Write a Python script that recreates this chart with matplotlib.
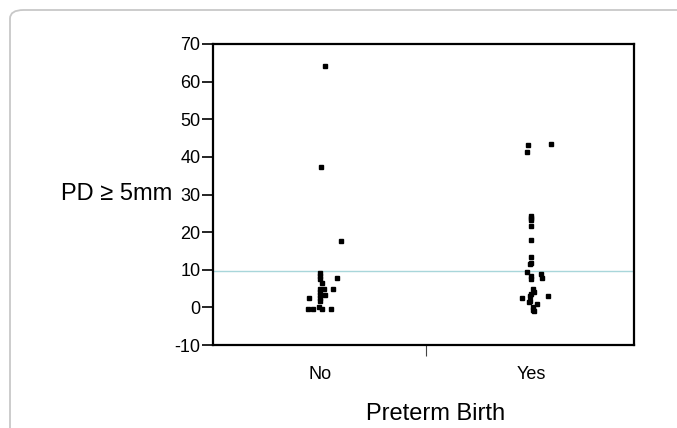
import numpy as np
import matplotlib.pyplot as plt
from matplotlib.patches import FancyBboxPatch

plt.rcParams['font.family'] = ['Liberation Sans', 'DejaVu Sans']

# values
groups = ["No", "Yes"]

no_values = [64.1, 37.2, 17.6, 9.2, 8.4, 7.6, 6.5, 7.8, 4.8, 5.0, 5.0, 4.0, 3.2, 3.2,
             2.4, 1.6, 2.4, -0.5, -0.4, 0.2, -0.5, -0.3]
no_jitter = [0.02, 0.005, 0.10, 0.0, 0.0, 0.0, 0.01, 0.08, 0.06, 0.0, 0.015, 0.0, 0.0, 0.02,
             0.0, 0.0, -0.055, -0.06, -0.035, -0.005, 0.01, 0.05]

yes_values = [43.2, 41.3, 43.5, 24.4, 23.8, 23.1, 21.7, 17.8, 13.3, 11.9, 11.4, 9.3, 8.4, 7.5,
              8.9, 7.9, 4.9, 4.1, 3.5, 2.9, 2.4, 2.9, 1.7, 1.3, 0.9, 0.0, -0.7, -0.9]
yes_jitter = [-0.013, -0.02, 0.098, 0.0, 0.0, 0.0, 0.0, 0.0, 0.0, 0.003, -0.002, -0.02, 0.0, 0.0,
              0.047, 0.053, 0.008, 0.014, 0.003, -0.002, -0.04, 0.082, -0.005, -0.008, 0.027,
              0.011, 0.008, 0.014]

ref_line = 9.7
yticks = list(range(-10, 71, 10))

fig = plt.figure(figsize=(6.77, 4.28), dpi=100)

# light rounded frame around the figure
frame = FancyBboxPatch((10 / 677, -0.2), 1.2, 1.2 - 10 / 428, boxstyle="round,pad=0,rounding_size=0.02",
                       transform=fig.transFigure, facecolor="none", edgecolor="#c8c8c8",
                       linewidth=1.3, figure=fig)
fig.patches.append(frame)

ax = fig.add_axes([213 / 677, 1 - 345 / 428, (634 - 213) / 677, (345 - 44) / 428])

x_no = 1 + np.array(no_jitter)
x_yes = 2 + np.array(yes_jitter)
ax.plot(x_no, no_values, "s", color="black", markersize=2.2, linestyle="none")
ax.plot(x_yes, yes_values, "s", color="black", markersize=2.2, linestyle="none")

ax.axhline(ref_line, color="#a8d6da", linewidth=1.0, zorder=0)

ax.set_xlim(0.49, 2.49)
ax.set_ylim(-10, 70)
ax.set_yticks(yticks)
ax.set_yticklabels([str(t) for t in yticks])
ax.set_xticks([1, 2])
ax.set_xticklabels(groups)
ax.set_xticks([1.5], minor=True)
ax.tick_params(axis="x", which="major", length=0, pad=15, labelsize=13)
ax.tick_params(axis="x", which="minor", length=8, width=0.8, color="#444444")
ax.tick_params(axis="y", length=8, width=1.2, pad=1, labelsize=13)

for s in ax.spines.values():
    s.set_linewidth(1.6)
    s.set_color("black")

fig.text(172 / 677, 1 - 194 / 428, "PD \u2265 5mm", ha="right", va="center", fontsize=17)
fig.text(436 / 677, 3 / 428, "Preterm Birth", ha="center", va="bottom", fontsize=17)

fig.savefig("out.png", dpi=100)
